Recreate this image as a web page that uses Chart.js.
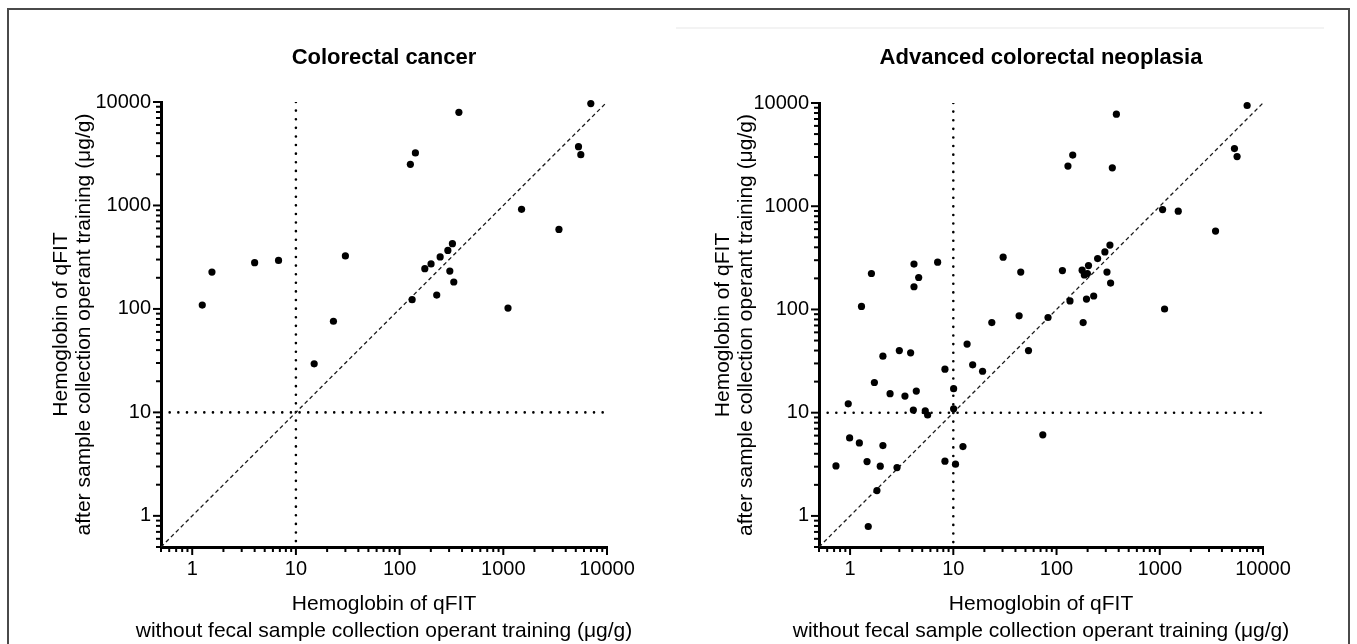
<!DOCTYPE html>
<html><head><meta charset="utf-8">
<script src="https://cdn.jsdelivr.net/npm/chart.js@4.4.1/dist/chart.umd.min.js"></script>
<style>
html,body{margin:0;padding:0;background:#fff;}
#wrap{position:relative;width:1357px;height:644px;overflow:hidden;background:#fff;}
#frame{position:absolute;left:7px;top:8px;width:1343px;height:700px;border:2px solid #4a4a4a;box-sizing:border-box;pointer-events:none;}
#faint{position:absolute;left:676px;top:27px;width:648px;height:2px;background:#f3f3f3;}
canvas{position:absolute;top:0;}
</style></head><body>
<div id="wrap">
<div id="faint"></div>
<canvas id="c1" width="680" height="644" style="left:0"></canvas>
<canvas id="c2" width="677" height="644" style="left:680px"></canvas>
<div id="frame"></div>
</div>
<script>
// ---- data ----
const crcTitle = 'Colorectal cancer';
const acnTitle = 'Advanced colorectal neoplasia';
const crcX = [1.25, 1.55, 4.0, 6.8, 15, 23, 30, 127, 142, 132, 175, 201, 228, 246, 292, 323, 305, 333, 373, 1110, 1500, 3440, 5310, 5590, 6980];
const crcY = [109, 227, 280, 294, 29.5, 76, 325, 2500, 3220, 123, 245, 272, 136, 318, 368, 427, 232, 182, 7950, 102, 917, 587, 3700, 3100, 9650];
const acnX = [7020, 380, 143.5, 129, 347, 5290, 5610, 1065, 1510, 3470, 329, 294, 250, 30.4, 7.05, 4.16, 1.61, 4.62, 4.16, 1.29, 45, 114, 177, 204, 186, 199, 308, 334, 135, 195, 229, 1113, 23.6, 43.4, 82.7, 181, 53.5, 13.6, 15.4, 19.2, 8.3, 10.07, 10.07, 3.0, 3.86, 2.08, 1.72, 2.44, 3.40, 4.38, 4.10, 5.35, 5.64, 0.96, 0.99, 1.23, 2.08, 12.4, 73.6, 0.73, 1.46, 1.96, 2.85, 1.82, 1.50, 8.3, 10.5];
const acnY = [9460, 7800, 3130, 2450, 2355, 3620, 3030, 929, 896, 574, 420, 361, 311, 321, 287, 275, 223, 204, 166, 107, 230, 238, 240, 266, 216, 223, 230, 180, 121, 126, 135, 101, 74.7, 86.7, 83.6, 74.7, 40, 46.2, 29.1, 25.2, 26.4, 17.1, 10.9, 40, 38, 35.3, 19.6, 15.3, 14.5, 16.2, 10.6, 10.4, 9.5, 12.2, 5.7, 5.1, 4.8, 4.7, 6.1, 3.05, 3.36, 3.03, 2.94, 1.76, 0.79, 3.39, 3.17];
const majorTicks = [1, 10, 100, 1000, 10000];
const minorMultipliers = [1, 2, 3, 4, 5, 6, 7, 8, 9];
const decadeExponents = [-1, 0, 1, 2, 3, 4];
const axisMin = 0.5;
const axisMax = 10000;
const cutoff = 10;
const xTitleLines = ['Hemoglobin of qFIT', 'without fecal sample collection operant training (\u03bcg/g)'];
const yTitleLines = ['Hemoglobin of qFIT', 'after sample collection operant training (\u03bcg/g)'];

// ---- tick positions ----
const tickValues = [];
decadeExponents.forEach(e => minorMultipliers.forEach(m => {
  const v = Number((m * Math.pow(10, e)).toPrecision(6));
  if (v >= axisMin && v <= axisMax) tickValues.push(v);
}));

const FONT = '"Liberation Sans", Arial, Helvetica, sans-serif';

const axisDecor = {
  id: 'axisDecor',
  afterDraw(chart) {
    const ctx = chart.ctx, a = chart.chartArea;
    const xs = chart.scales.x, ys = chart.scales.y;
    ctx.save();
    ctx.strokeStyle = '#000';
    ctx.lineWidth = 2;
    xs.ticks.forEach(t => {
      const p = xs.getPixelForValue(t.value);
      const len = majorTicks.includes(t.value) ? 8 : 5;
      ctx.beginPath(); ctx.moveTo(p, a.bottom); ctx.lineTo(p, a.bottom + len); ctx.stroke();
    });
    ys.ticks.forEach(t => {
      const p = ys.getPixelForValue(t.value);
      const len = majorTicks.includes(t.value) ? 8 : 5;
      ctx.beginPath(); ctx.moveTo(a.left, p); ctx.lineTo(a.left - len, p); ctx.stroke();
    });
    ctx.fillStyle = '#000';
    ctx.font = '21px ' + FONT;
    ctx.textAlign = 'center';
    ctx.textBaseline = 'middle';
    const cx = (a.left + a.right) / 2;
    xTitleLines.forEach((s, i) => ctx.fillText(s, cx, a.bottom + 57 + i * 27));
    ctx.restore();
  }
};

function makeChart(id, title, xs, ys, g) {
  const pts = xs.map((x, i) => ({x: x, y: ys[i]}));
  const tickFont = {family: FONT, size: 20};
  const scaleCommon = {
    type: 'logarithmic', min: axisMin, max: axisMax,
    afterBuildTicks: s => { s.ticks = tickValues.map(v => ({value: v})); },
    ticks: {autoSkip: false, maxRotation: 0, minRotation: 0, padding: 5, color: '#000', font: tickFont,
      callback: v => majorTicks.includes(v) ? String(v) : ''},
    grid: {display: true, drawOnChartArea: false, drawTicks: true, tickLength: 5, tickColor: 'rgba(0,0,0,0)'},
    border: {display: true, width: 3, color: '#000'}
  };
  return new Chart(document.getElementById(id), {
    type: 'scatter',
    data: {datasets: [
      {data: pts, pointRadius: 3.6, pointHoverRadius: 3.6, backgroundColor: '#000', borderWidth: 0, showLine: false, clip: false},
      {data: [{x: axisMin, y: axisMin}, {x: axisMax, y: axisMax}], showLine: true, borderColor: '#1a1a1a', borderWidth: 1.3, borderDash: [4, 3], pointRadius: 0, fill: false},
      {data: [{x: cutoff, y: axisMax}, {x: cutoff, y: axisMin}], showLine: true, borderColor: '#000', borderWidth: 2.6, borderDash: [0.01, 8.6], borderCapStyle: 'round', pointRadius: 0, fill: false},
      {data: [{x: axisMin, y: cutoff}, {x: axisMax, y: cutoff}], showLine: true, borderColor: '#000', borderWidth: 2.6, borderDash: [0.01, 8.65], borderCapStyle: 'round', pointRadius: 0, fill: false}
    ]},
    options: {
      responsive: false, animation: false, devicePixelRatio: 1,
      layout: {padding: {left: 0, right: g.canvasW - g.right, top: 0, bottom: 0}},
      plugins: {
        legend: {display: false}, tooltip: {enabled: false},
        title: {display: true, text: title, fullSize: false, color: '#000',
          font: {family: FONT, size: 22, weight: 'bold', lineHeight: 1.2},
          padding: {top: 45, bottom: g.top - 45 - 26.4}}
      },
      scales: {
        x: Object.assign({}, scaleCommon, {position: 'bottom', afterFit: s => { s.height = 644 - g.bottom; }}),
        y: Object.assign({}, scaleCommon, {position: 'left', afterFit: s => { s.width = g.left; },
          title: {display: true, text: yTitleLines, color: '#000', font: {family: FONT, size: 21, lineHeight: 1.1}, padding: {top: g.yTitle - 11.55, bottom: 0}}})
      }
    },
    plugins: [axisDecor]
  });
}

makeChart('c1', crcTitle, crcX, crcY, {canvasW: 680, left: 161, right: 607, top: 102, bottom: 547, yTitle: 61});
makeChart('c2', acnTitle, acnX, acnY, {canvasW: 677, left: 139, right: 583, top: 103, bottom: 547, yTitle: 43});
</script>
</body></html>
